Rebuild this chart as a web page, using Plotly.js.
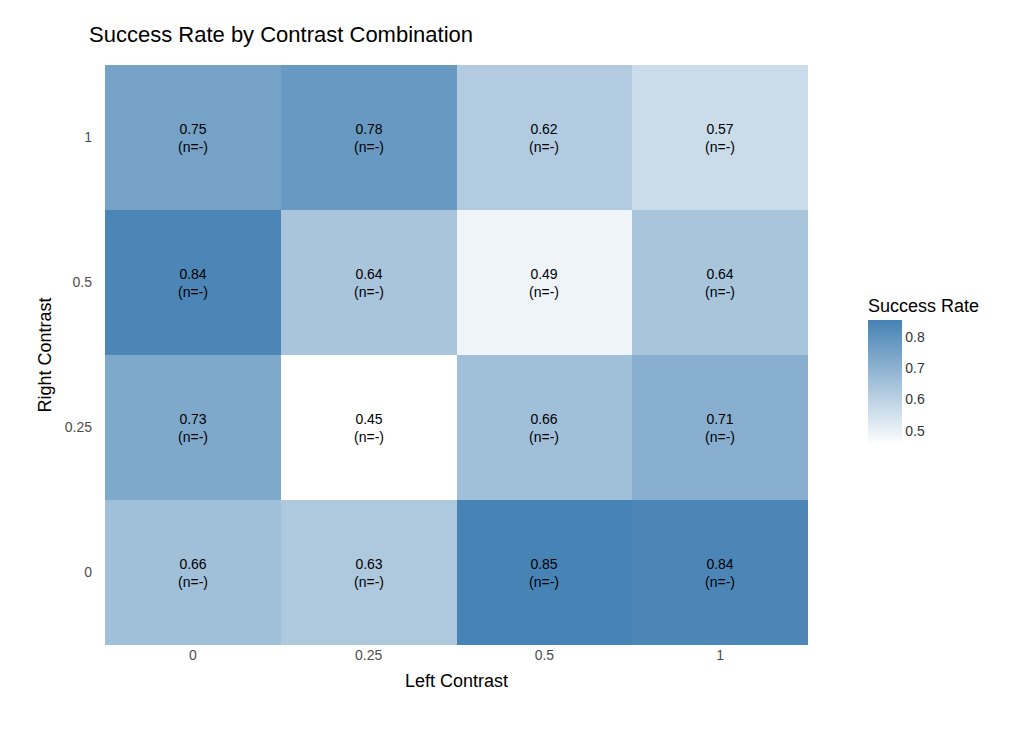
<!DOCTYPE html>
<html><head><meta charset="utf-8">
<script src="https://cdn.plot.ly/plotly-3.0.1.min.js"></script>
</head><body style="margin:0">
<div id="c" style="width:1012px;height:732px"></div>
<script>
const leftContrast = ['0','0.25','0.5','1'];
const rightContrast = ['0','0.25','0.5','1'];
const rates = [
  [0.66,0.63,0.85,0.84],
  [0.73,0.45,0.66,0.71],
  [0.84,0.64,0.49,0.64],
  [0.75,0.78,0.62,0.57]
];
const counts = [
  [1371,179,397,438],
  [194,99,166,423],
  [326,179,111,159],
  [454,317,163,105]
];
const trace = {
  type:'heatmap', x:leftContrast, y:rightContrast, z:rates, customdata:counts,
  zmin:0.455, zmax:0.853, xgap:0, ygap:0,
  colorscale:[[0,'#ffffff'],[1,'#4682b4']],
  texttemplate:'%{z:.2f}<br>(n=%{customdata})',
  textfont:{family:'Liberation Sans, Arial',size:14,color:'#000'},
  hoverinfo:'skip',
  colorbar:{title:{text:'Success Rate',side:'top',font:{size:18,color:'#000'}},
    x:1.071,xanchor:'left',y:0.474,yanchor:'middle',len:170,lenmode:'pixels',
    thickness:34,outlinewidth:0,tickvals:[0.5,0.6,0.7,0.8],ticks:'',
    tickfont:{size:14,color:'#333'}}
};
const layout = {
  margin:{l:105,r:204,t:65,b:87},
  font:{family:'Liberation Sans, Arial'},
  paper_bgcolor:'#fff', plot_bgcolor:'#fff',
  title:{text:'Success Rate by Contrast Combination',x:0.088,xanchor:'left',y:0.963,font:{size:22,color:'#000'}},
  xaxis:{type:'category',title:{text:'Left Contrast',font:{size:18,color:'#000'},standoff:12},
    tickfont:{size:14,color:'#4d4d4d'},showgrid:true,gridcolor:'#ebebeb',zeroline:false,ticks:''},
  yaxis:{type:'category',title:{text:'Right Contrast',font:{size:18,color:'#000'},standoff:8},
    tickfont:{size:14,color:'#4d4d4d'},showgrid:true,gridcolor:'#ebebeb',zeroline:false,ticks:'',ticklabelstandoff:12}
};
Plotly.newPlot('c',[trace],layout,{displayModeBar:false});
</script></body></html>
